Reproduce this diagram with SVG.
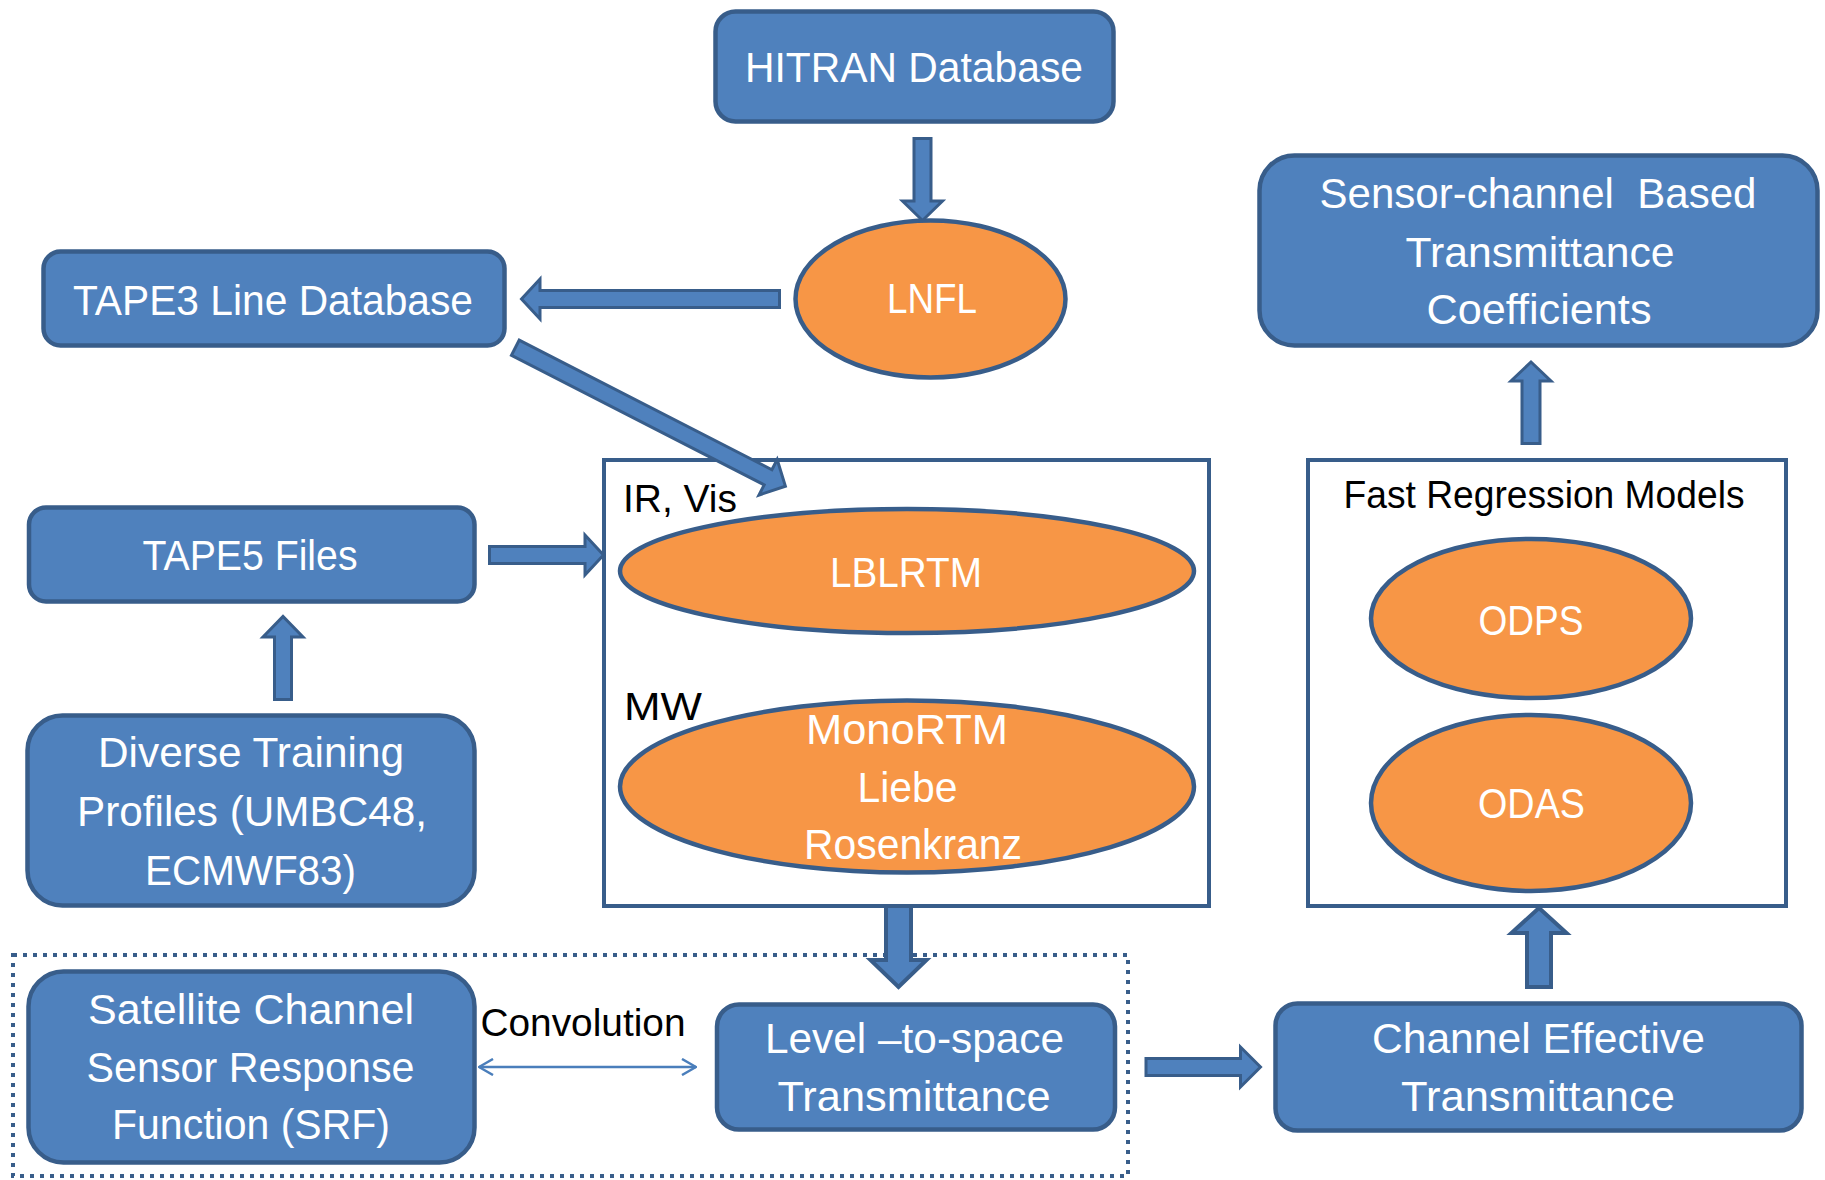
<svg xmlns="http://www.w3.org/2000/svg" width="1825" height="1180" viewBox="0 0 1825 1180">
<style>
.box{fill:#4f81bd;stroke:#385d8a;stroke-width:4.5}
.ell{fill:#f79646;stroke:#385d8a;stroke-width:4.5}
.frame{fill:#ffffff;stroke:#385d8a;stroke-width:4}
.dotted{fill:none;stroke:#385d8a;stroke-width:4;stroke-dasharray:4 6}
.arr{fill:#4f81bd;stroke:#385d8a;stroke-width:3;stroke-linejoin:miter}
.arrb{fill:#4f81bd;stroke:#385d8a;stroke-width:4;stroke-linejoin:miter}
.thin{fill:none;stroke:#4a7ebb;stroke-width:2.5}
.wt{font-family:"Liberation Sans",Arial,sans-serif;font-size:42px;fill:#ffffff;text-anchor:middle}
.bt{font-family:"Liberation Sans",Arial,sans-serif;font-size:38px;fill:#000000}
</style>
<defs>
<marker id="chev" viewBox="0 0 16 18" refX="15" refY="9" markerWidth="16" markerHeight="18" markerUnits="userSpaceOnUse" orient="auto-start-reverse">
<path d="M1,1 L15,9 L1,17" fill="none" stroke="#4a7ebb" stroke-width="2.5"/>
</marker>
</defs>
<rect width="1825" height="1180" fill="#ffffff"/>

<g id="group-lbl">
<rect class="frame" x="604" y="460" width="605" height="446"/>
<text class="bt" x="623" y="512" textLength="114" lengthAdjust="spacingAndGlyphs">IR, Vis</text>
<text class="bt" x="624" y="720" textLength="78" lengthAdjust="spacingAndGlyphs">MW</text>
</g>
<g id="group-fast">
<rect class="frame" x="1308" y="460" width="478" height="446"/>
<text class="bt" x="1544" y="508" text-anchor="middle" textLength="401" lengthAdjust="spacingAndGlyphs">Fast Regression Models</text>
</g>
<g id="group-convolution">
<rect class="dotted" x="13" y="955" width="1115" height="221"/>
</g>

<g id="hitran">
<rect class="box" x="715.5" y="11.5" width="398" height="110" rx="20"/>
<text class="wt" x="914" y="82" textLength="338" lengthAdjust="spacingAndGlyphs">HITRAN Database</text>
</g>
<g id="lnfl">
<ellipse class="ell" cx="930.5" cy="299" rx="135" ry="78.5"/>
<text class="wt" x="932" y="313" textLength="90" lengthAdjust="spacingAndGlyphs">LNFL</text>
</g>
<g id="tape3">
<rect class="box" x="43.5" y="251.5" width="461" height="94" rx="17"/>
<text class="wt" x="273" y="315" textLength="400" lengthAdjust="spacingAndGlyphs">TAPE3 Line Database</text>
</g>
<g id="tape5">
<rect class="box" x="29" y="507.5" width="445.5" height="94" rx="17"/>
<text class="wt" x="250" y="570" textLength="215" lengthAdjust="spacingAndGlyphs">TAPE5 Files</text>
</g>
<g id="diverse">
<rect class="box" x="27.5" y="715.5" width="447" height="190" rx="35"/>
<text class="wt" x="251" y="767" textLength="306" lengthAdjust="spacingAndGlyphs">Diverse Training</text>
<text class="wt" x="252" y="826" textLength="350" lengthAdjust="spacingAndGlyphs">Profiles (UMBC48,</text>
<text class="wt" x="250.5" y="885" textLength="211" lengthAdjust="spacingAndGlyphs">ECMWF83)</text>
</g>
<g id="lblrtm">
<ellipse class="ell" cx="907" cy="571" rx="287" ry="62"/>
<text class="wt" x="906" y="587" textLength="152" lengthAdjust="spacingAndGlyphs">LBLRTM</text>
</g>
<g id="monortm">
<ellipse class="ell" cx="907" cy="786.5" rx="287" ry="86"/>
<text class="wt" x="907" y="744" textLength="202" lengthAdjust="spacingAndGlyphs">MonoRTM</text>
<text class="wt" x="907.5" y="802" textLength="100" lengthAdjust="spacingAndGlyphs">Liebe</text>
<text class="wt" x="913" y="859" textLength="218" lengthAdjust="spacingAndGlyphs">Rosenkranz</text>
</g>
<g id="sensor-coeffs">
<rect class="box" x="1259.5" y="155.5" width="558" height="190" rx="35"/>
<text class="wt" x="1538" y="208" textLength="437" lengthAdjust="spacingAndGlyphs" xml:space="preserve">Sensor-channel  Based</text>
<text class="wt" x="1540" y="267" textLength="269" lengthAdjust="spacingAndGlyphs">Transmittance</text>
<text class="wt" x="1539" y="324" textLength="225" lengthAdjust="spacingAndGlyphs">Coefficients</text>
</g>
<g id="odps">
<ellipse class="ell" cx="1531" cy="618.5" rx="160" ry="79.5"/>
<text class="wt" x="1531" y="635" textLength="105" lengthAdjust="spacingAndGlyphs">ODPS</text>
</g>
<g id="odas">
<ellipse class="ell" cx="1531" cy="803" rx="160" ry="88"/>
<text class="wt" x="1531.5" y="818" textLength="107" lengthAdjust="spacingAndGlyphs">ODAS</text>
</g>
<g id="srf">
<rect class="box" x="28.5" y="971.5" width="446" height="191" rx="35"/>
<text class="wt" x="251" y="1024" textLength="326" lengthAdjust="spacingAndGlyphs">Satellite Channel</text>
<text class="wt" x="250.5" y="1082" textLength="328" lengthAdjust="spacingAndGlyphs">Sensor Response</text>
<text class="wt" x="251" y="1139" textLength="278" lengthAdjust="spacingAndGlyphs">Function (SRF)</text>
</g>
<g id="level-to-space">
<rect class="box" x="717" y="1004.5" width="398" height="125" rx="22"/>
<text class="wt" x="914.5" y="1053" textLength="299" lengthAdjust="spacingAndGlyphs">Level –to-space</text>
<text class="wt" x="914" y="1111" textLength="273" lengthAdjust="spacingAndGlyphs">Transmittance</text>
</g>
<g id="channel-effective">
<rect class="box" x="1275.5" y="1003.5" width="526" height="127" rx="22"/>
<text class="wt" x="1538.5" y="1053" textLength="333" lengthAdjust="spacingAndGlyphs">Channel Effective</text>
<text class="wt" x="1538" y="1111" textLength="274" lengthAdjust="spacingAndGlyphs">Transmittance</text>
</g>

<g id="connectors">
<polygon class="arr" points="914,138.5 931,138.5 931,201 942.5,201 922.5,220.5 902.5,201 914,201"/>
<polygon class="arr" points="779.5,290.5 540,290.5 540,279 521.5,299 540,319 540,307.5 779.5,307.5"/>
<polygon class="arr" transform="translate(514,347) rotate(27.15)" points="1.5,-8.5 285.5,-8.5 285.5,-20 305,0 285.5,20 285.5,8.5 1.5,8.5"/>
<polygon class="arr" points="489.5,546.5 585,546.5 585,535 603.5,555 585,575 585,563.5 489.5,563.5"/>
<polygon class="arr" points="274.5,699.5 274.5,637 263,637 283,616.5 303,637 291.5,637 291.5,699.5"/>
<polygon class="arrb" points="886,906 911,906 911,960 926.5,960 898.5,987 870.5,960 886,960"/>
<polygon class="arr" points="1146,1058.5 1240.5,1058.5 1240.5,1047 1260.5,1067 1240.5,1087 1240.5,1075.5 1146,1075.5"/>
<polygon class="arrb" points="1527,987 1527,933 1511.5,933 1539,908 1566.5,933 1551,933 1551,987"/>
<polygon class="arr" points="1522,443.5 1522,381 1511,381 1531,362 1551,381 1540,381 1540,443.5"/>
<line class="thin" x1="479" y1="1067" x2="696" y2="1067" marker-start="url(#chev)" marker-end="url(#chev)"/>
<text class="bt" x="480.5" y="1036" textLength="205" lengthAdjust="spacingAndGlyphs">Convolution</text>
</g>
</svg>
